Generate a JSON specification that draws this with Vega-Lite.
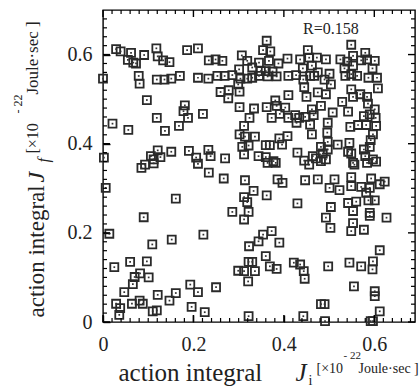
{
  "$schema": "https://vega.github.io/schema/vega-lite/v6.json",
  "width": 312,
  "height": 312,
  "autosize": {"type": "none"},
  "padding": {"left": 103, "top": 10, "right": 4, "bottom": 64},
  "background": "white",
  "config": {
    "view": {"stroke": "black", "strokeWidth": 1.4},
    "font": "Liberation Serif",
    "axis": {
      "labelFont": "Liberation Serif",
      "titleFont": "Liberation Serif",
      "labelFontSize": 20,
      "titleFontWeight": "normal",
      "labelColor": "#222",
      "titleColor": "#222"
    }
  },
  "datasets": {
    "pts": [
      {"x":0.029,"y":0.612},{"x":0.039,"y":0.607},{"x":0.055,"y":0.588},{"x":0.062,"y":0.604},{"x":0.067,"y":0.582},{"x":0.073,"y":0.580},{"x":0.091,"y":0.599},{"x":0.118,"y":0.614},{"x":0.121,"y":0.596},{"x":0.133,"y":0.587},{"x":0.147,"y":0.583},{"x":0.186,"y":0.610},{"x":0.210,"y":0.614},
      {"x":0.000,"y":0.546},{"x":0.079,"y":0.552},{"x":0.081,"y":0.535},{"x":0.119,"y":0.544},{"x":0.136,"y":0.544},{"x":0.151,"y":0.546},{"x":0.170,"y":0.552},{"x":0.210,"y":0.548},
      {"x":0.097,"y":0.498},{"x":0.181,"y":0.486},{"x":0.178,"y":0.473},{"x":0.188,"y":0.458},{"x":0.221,"y":0.467},{"x":0.119,"y":0.458},{"x":0.021,"y":0.445},{"x":0.056,"y":0.431},{"x":0.137,"y":0.429},{"x":0.168,"y":0.440},
      {"x":0.002,"y":0.369},{"x":0.121,"y":0.385},{"x":0.106,"y":0.372},{"x":0.112,"y":0.365},{"x":0.127,"y":0.370},{"x":0.151,"y":0.382},{"x":0.093,"y":0.353},{"x":0.085,"y":0.346},{"x":0.112,"y":0.356},{"x":0.190,"y":0.384},{"x":0.206,"y":0.369},{"x":0.210,"y":0.355},
      {"x":0.006,"y":0.301},{"x":0.161,"y":0.277},{"x":0.090,"y":0.235},{"x":0.014,"y":0.198},{"x":0.222,"y":0.196},{"x":0.152,"y":0.185},{"x":0.109,"y":0.174},{"x":0.060,"y":0.135},{"x":0.097,"y":0.136},{"x":0.025,"y":0.123},{"x":0.082,"y":0.109},{"x":0.070,"y":0.101},{"x":0.101,"y":0.100},{"x":0.066,"y":0.085},{"x":0.047,"y":0.067},{"x":0.193,"y":0.084},{"x":0.210,"y":0.067},{"x":0.161,"y":0.065},{"x":0.121,"y":0.061},{"x":0.147,"y":0.048},{"x":0.029,"y":0.041},{"x":0.038,"y":0.031},{"x":0.036,"y":0.016},{"x":0.064,"y":0.041},{"x":0.081,"y":0.048},{"x":0.088,"y":0.041},{"x":0.110,"y":0.024},{"x":0.119,"y":0.026},{"x":0.196,"y":0.034},{"x":0.225,"y":0.022},
      {"x":0.362,"y":0.631},{"x":0.354,"y":0.610},{"x":0.370,"y":0.607},{"x":0.453,"y":0.610},{"x":0.234,"y":0.587},{"x":0.249,"y":0.589},{"x":0.264,"y":0.586},{"x":0.307,"y":0.598},{"x":0.319,"y":0.586},{"x":0.345,"y":0.582},{"x":0.367,"y":0.586},{"x":0.388,"y":0.580},{"x":0.408,"y":0.591},{"x":0.436,"y":0.589},{"x":0.456,"y":0.593},{"x":0.462,"y":0.575},{"x":0.301,"y":0.567},{"x":0.330,"y":0.571},{"x":0.349,"y":0.563},{"x":0.360,"y":0.563},{"x":0.375,"y":0.562},{"x":0.442,"y":0.569},
      {"x":0.233,"y":0.546},{"x":0.253,"y":0.552},{"x":0.269,"y":0.552},{"x":0.286,"y":0.554},{"x":0.304,"y":0.546},{"x":0.319,"y":0.546},{"x":0.330,"y":0.548},{"x":0.345,"y":0.552},{"x":0.364,"y":0.551},{"x":0.384,"y":0.551},{"x":0.410,"y":0.552},{"x":0.427,"y":0.554},{"x":0.443,"y":0.544},{"x":0.458,"y":0.552},{"x":0.299,"y":0.533},{"x":0.445,"y":0.527},
      {"x":0.260,"y":0.516},{"x":0.278,"y":0.520},{"x":0.302,"y":0.517},{"x":0.277,"y":0.502},{"x":0.410,"y":0.509},{"x":0.381,"y":0.497},{"x":0.450,"y":0.505},{"x":0.302,"y":0.482},{"x":0.334,"y":0.479},{"x":0.362,"y":0.482},{"x":0.384,"y":0.485},{"x":0.403,"y":0.481},{"x":0.391,"y":0.467},{"x":0.324,"y":0.458},{"x":0.373,"y":0.458},{"x":0.410,"y":0.458},{"x":0.425,"y":0.464},{"x":0.434,"y":0.458},{"x":0.447,"y":0.460},{"x":0.462,"y":0.477},{"x":0.428,"y":0.447},{"x":0.312,"y":0.440},{"x":0.458,"y":0.443},
      {"x":0.302,"y":0.421},{"x":0.314,"y":0.416},{"x":0.336,"y":0.416},{"x":0.390,"y":0.412},{"x":0.408,"y":0.417},{"x":0.462,"y":0.421},{"x":0.322,"y":0.396},{"x":0.308,"y":0.393},{"x":0.360,"y":0.397},{"x":0.369,"y":0.397},{"x":0.396,"y":0.398},{"x":0.430,"y":0.380},{"x":0.233,"y":0.386},{"x":0.238,"y":0.372},{"x":0.270,"y":0.367},{"x":0.312,"y":0.376},{"x":0.344,"y":0.372},{"x":0.360,"y":0.370},{"x":0.364,"y":0.357},{"x":0.377,"y":0.361},{"x":0.382,"y":0.357},{"x":0.445,"y":0.362},{"x":0.456,"y":0.353},
      {"x":0.234,"y":0.335},{"x":0.267,"y":0.322},{"x":0.314,"y":0.318},{"x":0.386,"y":0.320},{"x":0.397,"y":0.312},{"x":0.447,"y":0.318},{"x":0.333,"y":0.294},{"x":0.312,"y":0.280},{"x":0.319,"y":0.269},{"x":0.362,"y":0.284},{"x":0.430,"y":0.266},{"x":0.286,"y":0.247},{"x":0.322,"y":0.247},{"x":0.312,"y":0.230},
      {"x":0.373,"y":0.204},{"x":0.354,"y":0.196},{"x":0.344,"y":0.181},{"x":0.323,"y":0.170},{"x":0.390,"y":0.178},{"x":0.360,"y":0.148},{"x":0.322,"y":0.135},{"x":0.330,"y":0.135},{"x":0.299,"y":0.115},{"x":0.312,"y":0.114},{"x":0.336,"y":0.114},{"x":0.369,"y":0.125},{"x":0.384,"y":0.119},{"x":0.422,"y":0.133},{"x":0.436,"y":0.129},{"x":0.444,"y":0.114},{"x":0.446,"y":0.097},{"x":0.321,"y":0.091},{"x":0.250,"y":0.078},{"x":0.322,"y":0.013},{"x":0.443,"y":0.013},
      {"x":0.549,"y":0.622},{"x":0.580,"y":0.604},{"x":0.473,"y":0.593},{"x":0.493,"y":0.589},{"x":0.525,"y":0.589},{"x":0.540,"y":0.584},{"x":0.553,"y":0.597},{"x":0.571,"y":0.587},{"x":0.584,"y":0.589},{"x":0.601,"y":0.586},{"x":0.553,"y":0.575},{"x":0.534,"y":0.569},{"x":0.596,"y":0.569},
      {"x":0.467,"y":0.552},{"x":0.490,"y":0.544},{"x":0.475,"y":0.560},{"x":0.501,"y":0.557},{"x":0.536,"y":0.552},{"x":0.549,"y":0.556},{"x":0.562,"y":0.552},{"x":0.587,"y":0.548},{"x":0.606,"y":0.548},{"x":0.504,"y":0.533},{"x":0.608,"y":0.524},{"x":0.549,"y":0.522},{"x":0.569,"y":0.511},{"x":0.475,"y":0.515},{"x":0.493,"y":0.511},{"x":0.553,"y":0.505},{"x":0.529,"y":0.494},{"x":0.584,"y":0.505},{"x":0.586,"y":0.490},
      {"x":0.482,"y":0.485},{"x":0.508,"y":0.470},{"x":0.542,"y":0.472},{"x":0.601,"y":0.477},{"x":0.577,"y":0.462},{"x":0.590,"y":0.466},{"x":0.603,"y":0.458},{"x":0.466,"y":0.464},{"x":0.497,"y":0.447},{"x":0.547,"y":0.438},{"x":0.564,"y":0.442},{"x":0.582,"y":0.442},{"x":0.604,"y":0.440},
      {"x":0.496,"y":0.425},{"x":0.597,"y":0.421},{"x":0.592,"y":0.408},{"x":0.519,"y":0.398},{"x":0.545,"y":0.402},{"x":0.497,"y":0.404},{"x":0.482,"y":0.393},{"x":0.497,"y":0.387},{"x":0.590,"y":0.393},{"x":0.577,"y":0.387},{"x":0.542,"y":0.382},{"x":0.549,"y":0.378},{"x":0.486,"y":0.378},{"x":0.464,"y":0.372},{"x":0.471,"y":0.367},{"x":0.482,"y":0.361},{"x":0.493,"y":0.365},{"x":0.580,"y":0.372},{"x":0.597,"y":0.365},{"x":0.553,"y":0.357},{"x":0.584,"y":0.357},{"x":0.604,"y":0.360},{"x":0.556,"y":0.353},
      {"x":0.475,"y":0.320},{"x":0.512,"y":0.320},{"x":0.501,"y":0.301},{"x":0.523,"y":0.296},{"x":0.549,"y":0.325},{"x":0.593,"y":0.322},{"x":0.623,"y":0.315},{"x":0.549,"y":0.305},{"x":0.571,"y":0.303},{"x":0.590,"y":0.301},{"x":0.612,"y":0.309},{"x":0.582,"y":0.290},{"x":0.601,"y":0.273},{"x":0.587,"y":0.273},{"x":0.542,"y":0.267},{"x":0.560,"y":0.270},{"x":0.504,"y":0.258},{"x":0.553,"y":0.249},{"x":0.590,"y":0.245},{"x":0.590,"y":0.238},{"x":0.627,"y":0.234},{"x":0.493,"y":0.234},{"x":0.553,"y":0.222},{"x":0.503,"y":0.211},{"x":0.549,"y":0.204},{"x":0.577,"y":0.207},
      {"x":0.612,"y":0.161},{"x":0.498,"y":0.125},{"x":0.545,"y":0.133},{"x":0.571,"y":0.125},{"x":0.597,"y":0.136},{"x":0.596,"y":0.118},{"x":0.601,"y":0.058},{"x":0.601,"y":0.069},{"x":0.555,"y":0.080},{"x":0.482,"y":0.040},{"x":0.490,"y":0.040},{"x":0.612,"y":0.024},{"x":0.491,"y":0.002},{"x":0.592,"y":0.002},{"x":0.597,"y":0.002}
    ],
    "note": [{"x": 0.504, "y": 0.657, "label": "R=0.158"}],
    "major": [{"v": 0}, {"v": 0.2}, {"v": 0.4}, {"v": 0.6}],
    "minor": [{"v":0.02},{"v":0.04},{"v":0.06},{"v":0.08},{"v":0.1},{"v":0.12},{"v":0.14},{"v":0.16},{"v":0.18},{"v":0.22},{"v":0.24},{"v":0.26},{"v":0.28},{"v":0.3},{"v":0.32},{"v":0.34},{"v":0.36},{"v":0.38},{"v":0.42},{"v":0.44},{"v":0.46},{"v":0.48},{"v":0.5},{"v":0.52},{"v":0.54},{"v":0.56},{"v":0.58},{"v":0.62},{"v":0.64},{"v":0.66},{"v":0.68}]
  },
  "resolve": {"axis": {"x": "independent", "y": "independent"}},
  "layer": [
    {
      "data": {"name": "pts"},
      "mark": {"type": "point", "shape": "square", "filled": false, "size": 64, "stroke": "#2a2a2a", "strokeWidth": 1.8, "opacity": 1},
      "encoding": {
        "x": {"field": "x", "type": "quantitative", "scale": {"domain": [0, 0.69], "nice": false},
          "axis": {"values": [0, 0.2, 0.4, 0.6], "grid": false, "domain": false, "tickColor": "black", "tickWidth": 1.4, "tickSize": -7, "labelPadding": 19, "labelFlush": false,
            "labelExpr": "datum.value == 0 ? '0' : format(datum.value, '.1f')",
            "title": "action integral", "titleFontSize": 25, "titleAlign": "left", "titleBaseline": "alphabetic", "titleX": 15, "titleY": 58}},
        "y": {"field": "y", "type": "quantitative", "scale": {"domain": [0, 0.70], "nice": false},
          "axis": {"values": [0, 0.2, 0.4, 0.6], "grid": false, "domain": false, "tickColor": "black", "tickWidth": 1.4, "tickSize": -7, "labelPadding": 18, "labelFlush": false,
            "labelExpr": "datum.value == 0 ? '0' : format(datum.value, '.1f')",
            "title": "action integral", "titleFontSize": 23, "titleAlign": "left", "titleAngle": 270, "titleBaseline": "alphabetic", "titleX": -60, "titleY": 307}}
      }
    },
    {
      "data": {"name": "pts"},
      "mark": {"type": "point", "shape": "square", "filled": true, "size": 3, "color": "#333", "opacity": 1},
      "encoding": {
        "x": {"field": "x", "type": "quantitative", "scale": {"domain": [0, 0.69], "nice": false}, "axis": null},
        "y": {"field": "y", "type": "quantitative", "scale": {"domain": [0, 0.70], "nice": false}, "axis": null}
      }
    },
    {
      "data": {"name": "note"},
      "mark": {"type": "text", "font": "Liberation Serif", "fontSize": 16, "color": "#222", "baseline": "middle", "align": "center"},
      "encoding": {
        "x": {"field": "x", "type": "quantitative", "scale": {"domain": [0, 0.69], "nice": false}, "axis": null},
        "y": {"field": "y", "type": "quantitative", "scale": {"domain": [0, 0.70], "nice": false}, "axis": null},
        "text": {"field": "label"}
      }
    },
    {
      "data": {"name": "major"},
      "mark": {"type": "rule", "color": "black", "strokeWidth": 1.4},
      "encoding": {
        "x": {"field": "v", "type": "quantitative", "scale": {"domain": [0, 0.69], "nice": false}, "axis": null},
        "y": {"datum": 0, "type": "quantitative", "scale": {"domain": [0, 0.70], "nice": false}, "axis": null},
        "y2": {"datum": 0.0157}
      }
    },
    {
      "data": {"name": "major"},
      "mark": {"type": "rule", "color": "black", "strokeWidth": 1.4},
      "encoding": {
        "x": {"field": "v", "type": "quantitative", "scale": {"domain": [0, 0.69], "nice": false}, "axis": null},
        "y": {"datum": 0.70, "type": "quantitative", "scale": {"domain": [0, 0.70], "nice": false}, "axis": null},
        "y2": {"datum": 0.6843}
      }
    },
    {
      "data": {"name": "major"},
      "mark": {"type": "rule", "color": "black", "strokeWidth": 1.4},
      "encoding": {
        "y": {"field": "v", "type": "quantitative", "scale": {"domain": [0, 0.70], "nice": false}, "axis": null},
        "x": {"datum": 0, "type": "quantitative", "scale": {"domain": [0, 0.69], "nice": false}, "axis": null},
        "x2": {"datum": 0.0155}
      }
    },
    {
      "data": {"name": "major"},
      "mark": {"type": "rule", "color": "black", "strokeWidth": 1.4},
      "encoding": {
        "y": {"field": "v", "type": "quantitative", "scale": {"domain": [0, 0.70], "nice": false}, "axis": null},
        "x": {"datum": 0.69, "type": "quantitative", "scale": {"domain": [0, 0.69], "nice": false}, "axis": null},
        "x2": {"datum": 0.6745}
      }
    },
    {
      "data": {"name": "minor"},
      "mark": {"type": "rule", "color": "black", "strokeWidth": 1.2},
      "encoding": {
        "x": {"field": "v", "type": "quantitative", "scale": {"domain": [0, 0.69], "nice": false}, "axis": null},
        "y": {"datum": 0, "type": "quantitative", "scale": {"domain": [0, 0.70], "nice": false}, "axis": null},
        "y2": {"datum": 0.009}
      }
    },
    {
      "data": {"name": "minor"},
      "mark": {"type": "rule", "color": "black", "strokeWidth": 1.2},
      "encoding": {
        "x": {"field": "v", "type": "quantitative", "scale": {"domain": [0, 0.69], "nice": false}, "axis": null},
        "y": {"datum": 0.70, "type": "quantitative", "scale": {"domain": [0, 0.70], "nice": false}, "axis": null},
        "y2": {"datum": 0.691}
      }
    },
    {
      "data": {"name": "minor"},
      "mark": {"type": "rule", "color": "black", "strokeWidth": 1.2},
      "encoding": {
        "y": {"field": "v", "type": "quantitative", "scale": {"domain": [0, 0.70], "nice": false}, "axis": null},
        "x": {"datum": 0, "type": "quantitative", "scale": {"domain": [0, 0.69], "nice": false}, "axis": null},
        "x2": {"datum": 0.0089}
      }
    },
    {
      "data": {"name": "minor"},
      "mark": {"type": "rule", "color": "black", "strokeWidth": 1.2},
      "encoding": {
        "y": {"field": "v", "type": "quantitative", "scale": {"domain": [0, 0.70], "nice": false}, "axis": null},
        "x": {"datum": 0.69, "type": "quantitative", "scale": {"domain": [0, 0.69], "nice": false}, "axis": null},
        "x2": {"datum": 0.6811}
      }
    },
    {
      "data": {"name": "note"},
      "mark": {"type": "text", "opacity": 0},
      "encoding": {
        "x": {"field": "x", "type": "quantitative", "scale": {"domain": [0, 0.69], "nice": false},
          "axis": {"orient": "bottom", "labels": false, "ticks": false, "grid": false, "domain": false, "values": [],
            "title": "J", "titleFontSize": 25, "titleFontStyle": "italic", "titleAlign": "left", "titleBaseline": "alphabetic", "titleX": 192, "titleY": 58}},
        "y": {"field": "y", "type": "quantitative", "scale": {"domain": [0, 0.70], "nice": false},
          "axis": {"orient": "left", "labels": false, "ticks": false, "grid": false, "domain": false, "values": [],
            "title": "J", "titleFontSize": 24, "titleFontStyle": "italic", "titleAlign": "left", "titleAngle": 270, "titleBaseline": "alphabetic", "titleX": -60, "titleY": 172}},
        "text": {"value": ""}
      }
    },
    {
      "data": {"name": "note"},
      "mark": {"type": "text", "opacity": 0},
      "encoding": {
        "x": {"field": "x", "type": "quantitative", "scale": {"domain": [0, 0.69], "nice": false},
          "axis": {"orient": "bottom", "labels": false, "ticks": false, "grid": false, "domain": false, "values": [],
            "title": "i", "titleFontSize": 14, "titleAlign": "left", "titleBaseline": "alphabetic", "titleX": 205, "titleY": 62}},
        "y": {"field": "y", "type": "quantitative", "scale": {"domain": [0, 0.70], "nice": false},
          "axis": {"orient": "left", "labels": false, "ticks": false, "grid": false, "domain": false, "values": [],
            "title": "f", "titleFontSize": 16, "titleFontStyle": "italic", "titleAlign": "left", "titleAngle": 270, "titleBaseline": "alphabetic", "titleX": -55, "titleY": 152}},
        "text": {"value": ""}
      }
    },
    {
      "data": {"name": "note"},
      "mark": {"type": "text", "opacity": 0},
      "encoding": {
        "x": {"field": "x", "type": "quantitative", "scale": {"domain": [0, 0.69], "nice": false},
          "axis": {"orient": "bottom", "labels": false, "ticks": false, "grid": false, "domain": false, "values": [],
            "title": "[×10", "titleFontSize": 14, "titleAlign": "left", "titleBaseline": "alphabetic", "titleX": 213, "titleY": 50}},
        "y": {"field": "y", "type": "quantitative", "scale": {"domain": [0, 0.70], "nice": false},
          "axis": {"orient": "left", "labels": false, "ticks": false, "grid": false, "domain": false, "values": [],
            "title": "[×10", "titleFontSize": 16, "titleAlign": "left", "titleAngle": 270, "titleBaseline": "alphabetic", "titleX": -66, "titleY": 143}},
        "text": {"value": ""}
      }
    },
    {
      "data": {"name": "note"},
      "mark": {"type": "text", "opacity": 0},
      "encoding": {
        "x": {"field": "x", "type": "quantitative", "scale": {"domain": [0, 0.69], "nice": false},
          "axis": {"orient": "bottom", "labels": false, "ticks": false, "grid": false, "domain": false, "values": [],
            "title": "- 22", "titleFontSize": 11, "titleAlign": "left", "titleBaseline": "alphabetic", "titleX": 240, "titleY": 36}},
        "y": {"field": "y", "type": "quantitative", "scale": {"domain": [0, 0.70], "nice": false},
          "axis": {"orient": "left", "labels": false, "ticks": false, "grid": false, "domain": false, "values": [],
            "title": "- 22", "titleFontSize": 12, "titleAlign": "left", "titleAngle": 270, "titleBaseline": "alphabetic", "titleX": -82, "titleY": 103}},
        "text": {"value": ""}
      }
    },
    {
      "data": {"name": "note"},
      "mark": {"type": "text", "opacity": 0},
      "encoding": {
        "x": {"field": "x", "type": "quantitative", "scale": {"domain": [0, 0.69], "nice": false},
          "axis": {"orient": "bottom", "labels": false, "ticks": false, "grid": false, "domain": false, "values": [],
            "title": "Joule·sec ]", "titleFontSize": 14, "titleAlign": "left", "titleBaseline": "alphabetic", "titleX": 255, "titleY": 50}},
        "y": {"field": "y", "type": "quantitative", "scale": {"domain": [0, 0.70], "nice": false},
          "axis": {"orient": "left", "labels": false, "ticks": false, "grid": false, "domain": false, "values": [],
            "title": "Joule·sec ]", "titleFontSize": 17, "titleAlign": "left", "titleAngle": 270, "titleBaseline": "alphabetic", "titleX": -66, "titleY": 84}},
        "text": {"value": ""}
      }
    }
  ]
}
